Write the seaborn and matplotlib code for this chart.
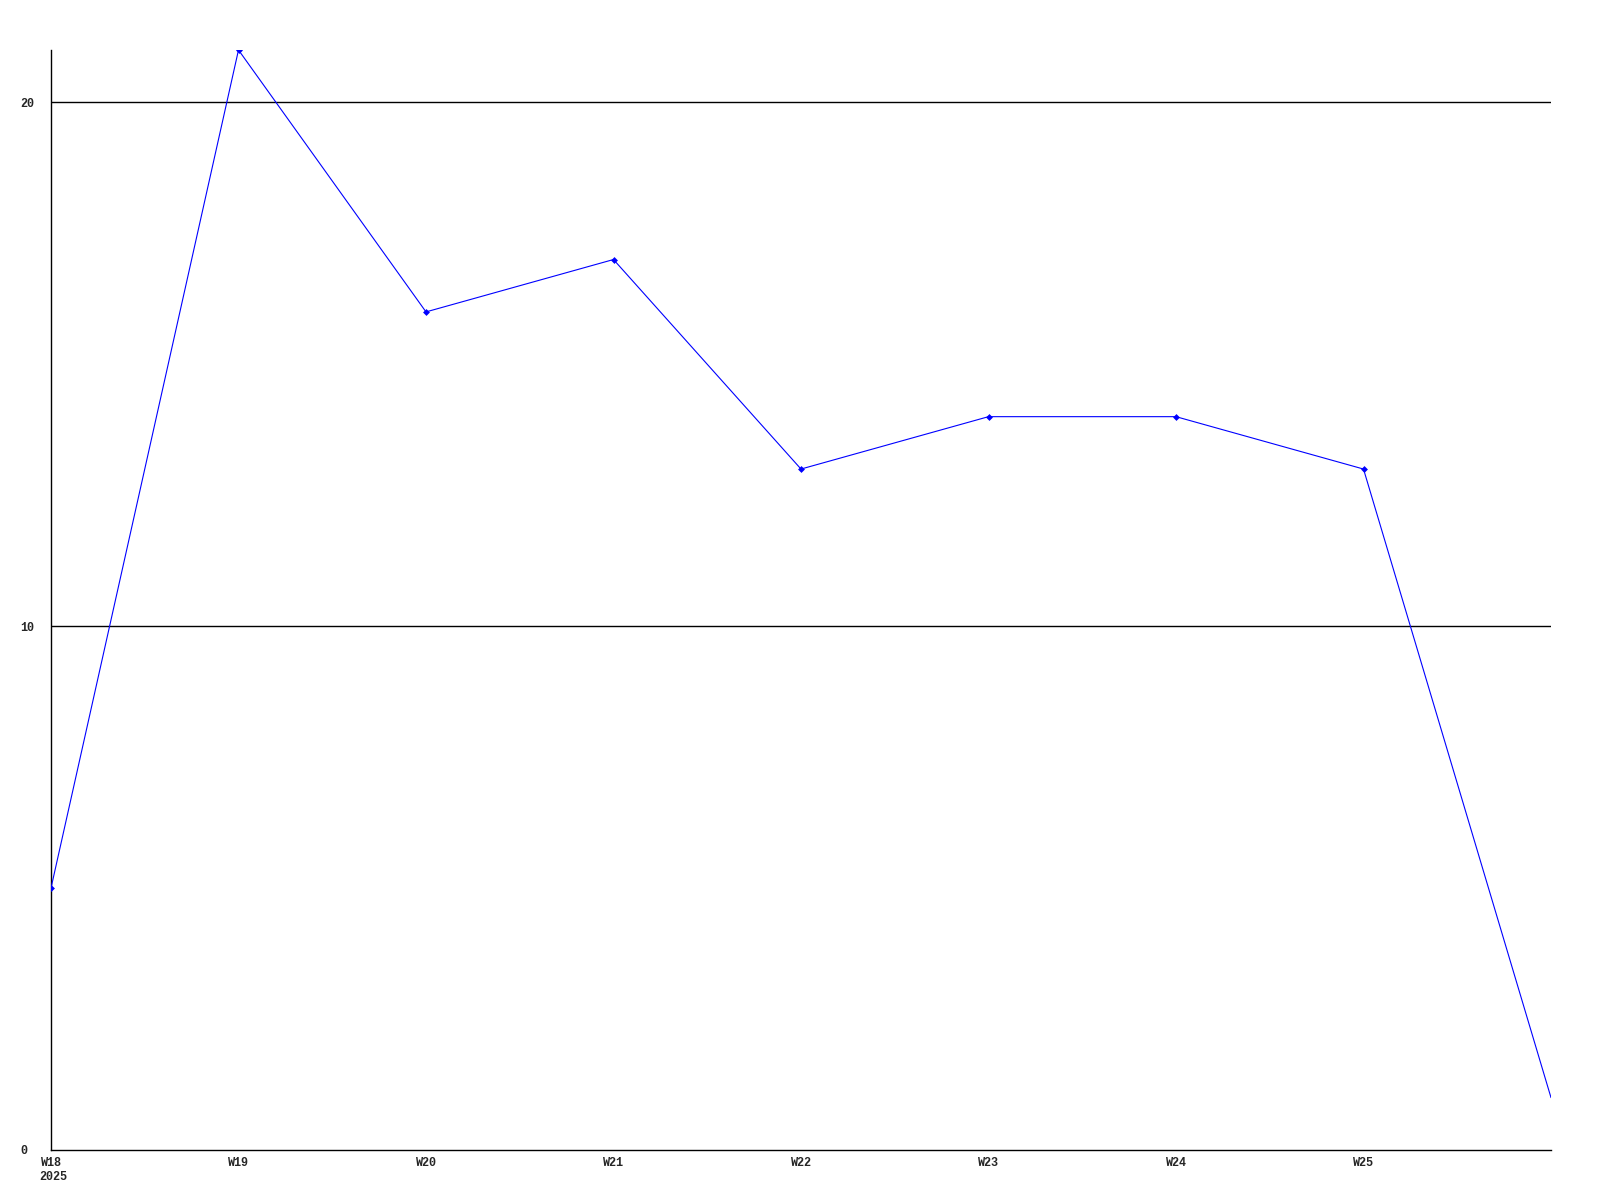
import numpy as np
import pandas as pd
import seaborn as sns
import matplotlib.pyplot as plt

weeks = ["W18", "W19", "W20", "W21", "W22", "W23", "W24", "W25", "W26"]
values = [5, 21, 16, 17, 13, 14, 14, 13, 1]
tick_labels = ["W18", "W19", "W20", "W21", "W22", "W23", "W24", "W25", ""]
year_label = "2025"

df = pd.DataFrame({"pos": np.arange(len(weeks)), "week": weeks, "value": values})

sns.set_style("white")
plt.rcParams["font.family"] = ["Liberation Mono", "DejaVu Sans Mono"]

fig = plt.figure(figsize=(16, 12), dpi=100)
ax = fig.add_axes([51 / 1600, 1 - 1150 / 1200, 1500 / 1600, 1100 / 1200])

for y in [10, 20]:
    ax.axhline(y, color="black", lw=1, zorder=1)

sns.lineplot(data=df, x="pos", y="value", ax=ax, color="#0000ff", lw=0.8,
             marker="D", markersize=3.5, markeredgewidth=0, markevery=list(range(len(weeks) - 1)),
             zorder=3)

ax.set_xlim(0, len(weeks) - 1)
ax.set_ylim(0, 21)
ax.set_xticks(df["pos"])
ax.set_xticklabels(tick_labels, fontsize=8.5, fontweight="bold")
ax.set_yticks([0, 10, 20])
ax.set_yticklabels(["0", "10", "20"], fontsize=8.5, fontweight="bold", ha="left")
ax.tick_params(axis="x", length=0, pad=5)
ax.tick_params(axis="y", length=0, pad=22)
ax.set_xlabel("")
ax.set_ylabel("")
for s in ["top", "right"]:
    ax.spines[s].set_visible(False)
for s in ["left", "bottom"]:
    ax.spines[s].set_color("black")
    ax.spines[s].set_linewidth(1)

ax.text(-0.0075, -0.019, year_label, transform=ax.transAxes, fontsize=8.5, fontweight="bold",
        ha="left", va="top")

fig.savefig("out.png", dpi=100)
